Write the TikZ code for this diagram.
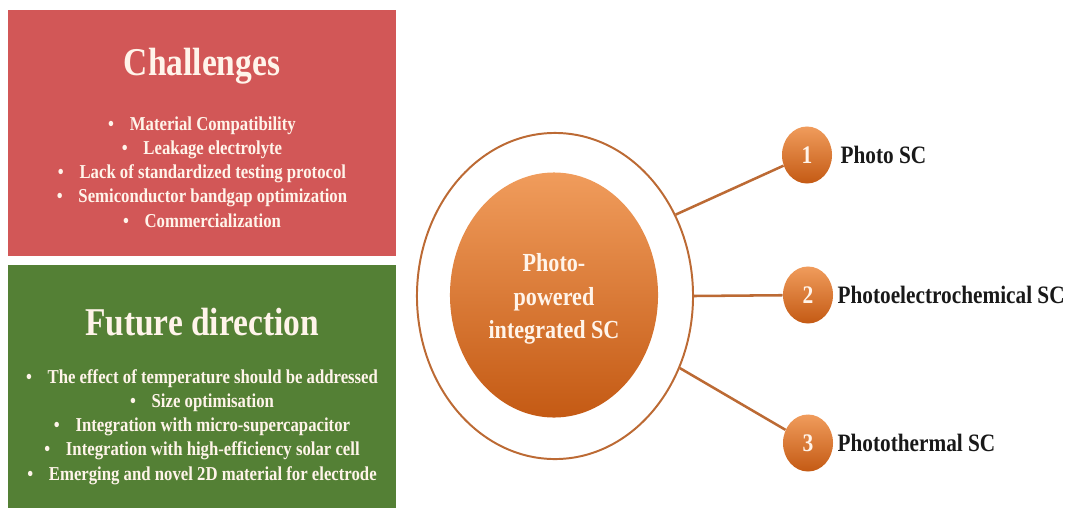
\documentclass[tikz,border=0pt]{standalone}
\usepackage{fontspec}
\setmainfont{Liberation Serif}[FakeStretch=0.85]
\usetikzlibrary{shapes.geometric}
\usetikzlibrary{positioning}
\definecolor{chalred}{HTML}{D25757}
\definecolor{futgreen}{HTML}{548035}
\definecolor{creamtext}{HTML}{FFF4EA}
\definecolor{ringbrown}{HTML}{BC6A34}
\definecolor{orangetop}{HTML}{F09C5C}
\definecolor{orangebot}{HTML}{C45A14}
\tikzstyle{BoxNode}=[rectangle, inner sep=0pt, minimum width=9.7cm]
\tikzstyle{TitleText}=[inner sep=0pt, text=creamtext, font=\bfseries\fontsize{28}{32}\selectfont]
\tikzstyle{ListText}=[inner sep=0pt, text=creamtext, align=center, font=\bfseries\fontsize{14}{17.2}\selectfont]
\tikzstyle{RingNode}=[ellipse, draw=ringbrown, line width=1.4pt, minimum width=6.9cm, minimum height=8.15cm]
\tikzstyle{CoreNode}=[ellipse, top color=orangetop, bottom color=orangebot, minimum width=5.2cm, minimum height=6.125cm]
\tikzstyle{CoreText}=[inner sep=0pt, text=creamtext, align=center, font=\bfseries\fontsize{18.5}{24}\selectfont]
\tikzstyle{NumNode}=[ellipse, top color=orangetop, bottom color=orangebot, minimum width=1.25cm, minimum height=1.425cm, inner sep=0pt, text=creamtext, font=\bfseries\fontsize{18}{20}\selectfont]
\tikzstyle{LabelText}=[inner sep=0pt, text=black!90, font=\bfseries\fontsize{17.8}{20}\selectfont]
\tikzstyle{LinkEdge}=[draw=ringbrown, line width=1.8pt]
\newcommand{\bul}{\textbullet\hspace{0.8em}}

\begin{document}
\begin{tikzpicture}[x=0.025cm, y=-0.025cm]
\useasboundingbox (0,0) rectangle (1068,508);

% left panels
\node[BoxNode, fill=chalred, minimum height=6.15cm](CHAL) at (202,133) {};
\node[BoxNode, fill=futgreen, minimum height=6.075cm](FUT) at (202,386.5) {};

\node[TitleText](CHALT) at (202,66) {Challenges};
\node[ListText](CHALL) at (202,172) {\bul Material Compatibility\\
\bul Leakage electrolyte\\
\bul Lack of standardized testing protocol\\
\bul Semiconductor bandgap optimization\\
\bul Commercialization};

\node[TitleText](FUTT) at (202,322) {Future direction};
\node[ListText](FUTL) at (202,427) {\bul The effect of temperature should be addressed\\
\bul Size optimisation\\
\bul Integration with micro-supercapacitor\\
\bul Integration with high-efficiency solar cell\\
\bul Emerging and novel 2D material for electrode};

% centre
\node[RingNode](RING) at (555,296) {};
\node[CoreNode](CORE) at (554,295) {};
\node[CoreText](COREL) at (554,299) {Photo-\\powered\\integrated SC};

% branches
\node[NumNode](N1) at (807,155) {1};
\node[NumNode](N2) at (808,295) {2};
\node[NumNode](N3) at (808,443) {3};

\node[LabelText, right=0.2cm of N1](L1) {Photo SC};
\node[LabelText, right=0.1cm of N2](L2) {Photoelectrochemical SC};
\node[LabelText, right=0.1cm of N3](L3) {Photothermal SC};

\draw[LinkEdge](RING.34) -- (N1);
\draw[LinkEdge](RING.east) -- (N2);
\draw[LinkEdge](RING.-30) -- (N3);
\end{tikzpicture}
\end{document}
